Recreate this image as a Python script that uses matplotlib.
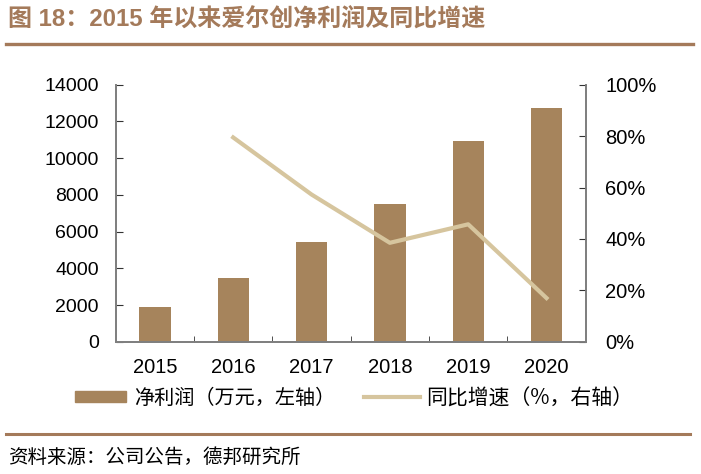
import numpy as np
import matplotlib
matplotlib.use("Agg")
import matplotlib.pyplot as plt
from matplotlib.lines import Line2D
from matplotlib.patches import Patch

plt.rcParams['font.family'] = ['Liberation Sans', 'Noto Sans CJK SC', 'DejaVu Sans']

# data
years = ['2015', '2016', '2017', '2018', '2019', '2020']
profit = [1906, 3448, 5425, 7516, 10948, 12730]          # 净利润 (万元)
growth_years = ['2016', '2017', '2018', '2019', '2020']
growth = [79.5, 57.3, 38.5, 45.7, 17.0]                   # 同比增速 (%)

bar_color = '#A6845C'
line_color = '#D6C59E'
brown = '#A47A5A'
spine_color = '#7f7f7f'
cjk = ['Noto Sans CJK SC', 'DejaVu Sans']

fig = plt.figure(figsize=(7.01, 4.74), dpi=100)
ax = fig.add_axes([0.165, 0.279, 0.6705, 0.5422])

x = np.arange(len(years))
ax.bar(x, profit, width=0.4, color=bar_color, zorder=2)
ax.set_xlim(-0.5, len(years) - 0.5)
ax.set_ylim(0, 14000)
ax.set_yticks(np.arange(0, 14001, 2000))
ax.set_xticks(x)
ax.set_xticklabels(years)
ax.set_xticks(np.arange(0.5, len(years) - 1, 1), minor=True)
ax.tick_params(axis='x', which='major', length=0, labelsize=14.5, pad=12)
ax.tick_params(axis='x', which='minor', length=4.5, direction='in', color='#333333')
ax.tick_params(axis='y', length=5, direction='in', labelsize=14, color='#333333', pad=12)
ax.spines['top'].set_visible(False)
for s in ['left', 'bottom', 'right']:
    ax.spines[s].set_color(spine_color)
    ax.spines[s].set_linewidth(1.3)

ax2 = ax.twinx()
gx = [years.index(y) for y in growth_years]
ax2.plot(gx, growth, color=line_color, linewidth=3, zorder=3)
ax2.set_ylim(0, 100)
ax2.set_yticks(np.arange(0, 101, 20))
ax2.set_yticklabels([f'{v}%' for v in range(0, 101, 20)])
ax2.tick_params(axis='y', length=5, direction='in', labelsize=14.5, color='#333333', pad=14)
ax2.spines['top'].set_visible(False)
for s in ['left', 'bottom', 'right']:
    ax2.spines[s].set_color(spine_color)
    ax2.spines[s].set_linewidth(1.3)

# legend, two parts placed side by side
fig.legend([Patch(color=bar_color)], ['净利润（万元，左轴）'], loc='center left',
           bbox_to_anchor=(0.107, 0.160), frameon=False, borderpad=0, borderaxespad=0,
           handlelength=2.55, handleheight=0.45, handletextpad=0.36,
           prop={'family': cjk, 'size': 14.5})
fig.legend([Line2D([0], [0], color=line_color, linewidth=3)], ['同比增速（%，右轴）'],
           loc='center left', bbox_to_anchor=(0.519, 0.160), frameon=False, borderpad=0,
           borderaxespad=0, handlelength=2.7, handletextpad=0.3,
           prop={'family': cjk, 'size': 15})

# title and rules
fig.text(0.011, 0.960, '图 18：2015 年以来爱尔创净利润及同比增速', color=brown,
         fontsize=17.3, fontweight='bold', va='center',
         family=['Liberation Sans', 'Noto Sans CJK SC', 'DejaVu Sans'])
fig.add_artist(Line2D([0.0086, 0.989], [0.907, 0.907], color=brown, linewidth=2.4))
fig.add_artist(Line2D([0.0086, 0.985], [0.084, 0.084], color=brown, linewidth=2.2))
fig.text(0.011, 0.034, '资料来源：公司公告，德邦研究所', color='black', fontsize=14,
         va='center', family=cjk)

fig.savefig('out.png', dpi=100)
